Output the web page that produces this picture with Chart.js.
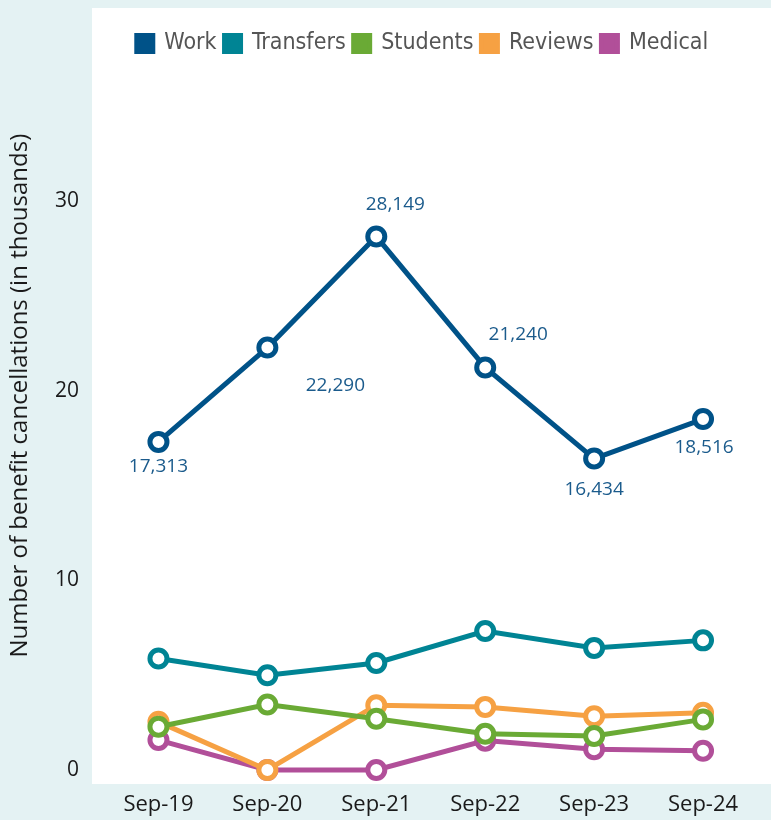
<!DOCTYPE html>
<html>
<head>
<meta charset="utf-8">
<script src="https://cdn.jsdelivr.net/npm/chart.js@4/dist/chart.umd.min.js"></script>
<style>
  html, body { margin: 0; padding: 0; background: #e4f2f3; }
  #wrap { width: 771px; height: 820px; }
</style>
</head>
<body>
<div id="wrap"><canvas id="lineChart" width="771" height="820"></canvas></div>
<script>
const months = ['Sep-19', 'Sep-20', 'Sep-21', 'Sep-22', 'Sep-23', 'Sep-24'];

// values in thousands
const work = [17.313, 22.290, 28.149, 21.240, 16.434, 18.516];
const transfers = [5.88, 5.0, 5.65, 7.33, 6.44, 6.84];
const students = [2.28, 3.46, 2.70, 1.91, 1.79, 2.67];
const reviews = [2.54, 0.0, 3.42, 3.33, 2.84, 3.02];
const medical = [1.58, 0.0, 0.0, 1.55, 1.09, 1.02];

const yTicks = [0, 10, 20, 30];

// where the Work value labels sit relative to their point
const workLabelOffsets = [
  { dx: 0, dy: 25 },
  { dx: 68, dy: 38 },
  { dx: 19, dy: -32 },
  { dx: 33, dy: -33 },
  { dx: 0, dy: 31 },
  { dx: 1, dy: 29 }
];

const tickFont = "'Open Sans', 'Lato', sans-serif";
const legendFont = "'DejaVu Sans Condensed', 'Liberation Sans Narrow', 'Roboto', sans-serif";

function series(label, values, color) {
  return {
    label: label,
    data: values,
    borderColor: color,
    backgroundColor: color,
    borderWidth: 5,
    pointRadius: 8.5,
    pointHoverRadius: 8.5,
    pointBorderWidth: 5,
    pointBackgroundColor: '#ffffff',
    pointBorderColor: color,
    tension: 0,
    clip: false
  };
}

const panelBg = {
  id: 'panelBg',
  afterLayout(chart) {
    // nudge the legend to the right like the original
    chart.legend.left += 84;
  },
  beforeDraw(chart) {
    const ctx = chart.ctx;
    const a = chart.chartArea;
    ctx.save();
    ctx.fillStyle = '#e4f2f3';
    ctx.fillRect(0, 0, chart.width, chart.height);
    ctx.fillStyle = '#ffffff';
    ctx.fillRect(a.left - 12, 8, chart.width - (a.left - 12), a.bottom + 14 - 8);
    ctx.restore();
  }
};

const workLabels = {
  id: 'workLabels',
  afterDatasetsDraw(chart) {
    const ctx = chart.ctx;
    const meta = chart.getDatasetMeta(0);
    ctx.save();
    ctx.font = "19px " + tickFont;
    ctx.fillStyle = '#1b5b8c';
    ctx.textAlign = 'center';
    ctx.textBaseline = 'middle';
    meta.data.forEach((pt, i) => {
      const text = Math.round(work[i] * 1000).toLocaleString('en-US');
      ctx.fillText(text, pt.x + workLabelOffsets[i].dx, pt.y + workLabelOffsets[i].dy);
    });
    ctx.restore();
  }
};

new Chart(document.getElementById('lineChart'), {
  type: 'line',
  data: {
    labels: months,
    datasets: [
      series('Work', work, '#005288'),
      series('Transfers', transfers, '#008494'),
      series('Students', students, '#6aaa35'),
      series('Reviews', reviews, '#f6a143'),
      series('Medical', medical, '#b14f99')
    ]
  },
  options: {
    responsive: false,
    animation: false,
    layout: {
      padding: { top: 24, right: 10, bottom: 0, left: 0 }
    },
    scales: {
      x: {
        offset: true,
        afterFit(scale) {
          scale.height = 50;
        },
        grid: { display: false, drawTicks: false },
        border: { display: false },
        ticks: {
          padding: 22,
          color: '#1a1a1a',
          font: { size: 22, family: tickFont }
        }
      },
      y: {
        min: 0,
        max: 37.2,
        afterBuildTicks(scale) {
          scale.ticks = yTicks.map(v => ({ value: v }));
        },
        afterFit(scale) {
          scale.width = 104;
        },
        grid: { display: false, drawTicks: false },
        border: { display: false },
        ticks: {
          padding: 25,
          color: '#1a1a1a',
          font: { size: 21, family: tickFont }
        },
        title: {
          display: true,
          // leading spaces lift the title a little, as in the original
          text: '\u00a0\u00a0\u00a0\u00a0\u00a0\u00a0\u00a0Number of benefit cancellations (in thousands)',
          color: '#1a1a1a',
          font: { size: 24, family: tickFont },
          padding: { top: 6, bottom: 0 }
        }
      }
    },
    plugins: {
      legend: {
        position: 'top',
        labels: {
          boxWidth: 16,
          boxHeight: 16,
          padding: 8,
          color: '#555555',
          font: { size: 23, family: legendFont }
        }
      },
      tooltip: { enabled: false }
    }
  },
  plugins: [panelBg, workLabels]
});
</script>
</body>
</html>
